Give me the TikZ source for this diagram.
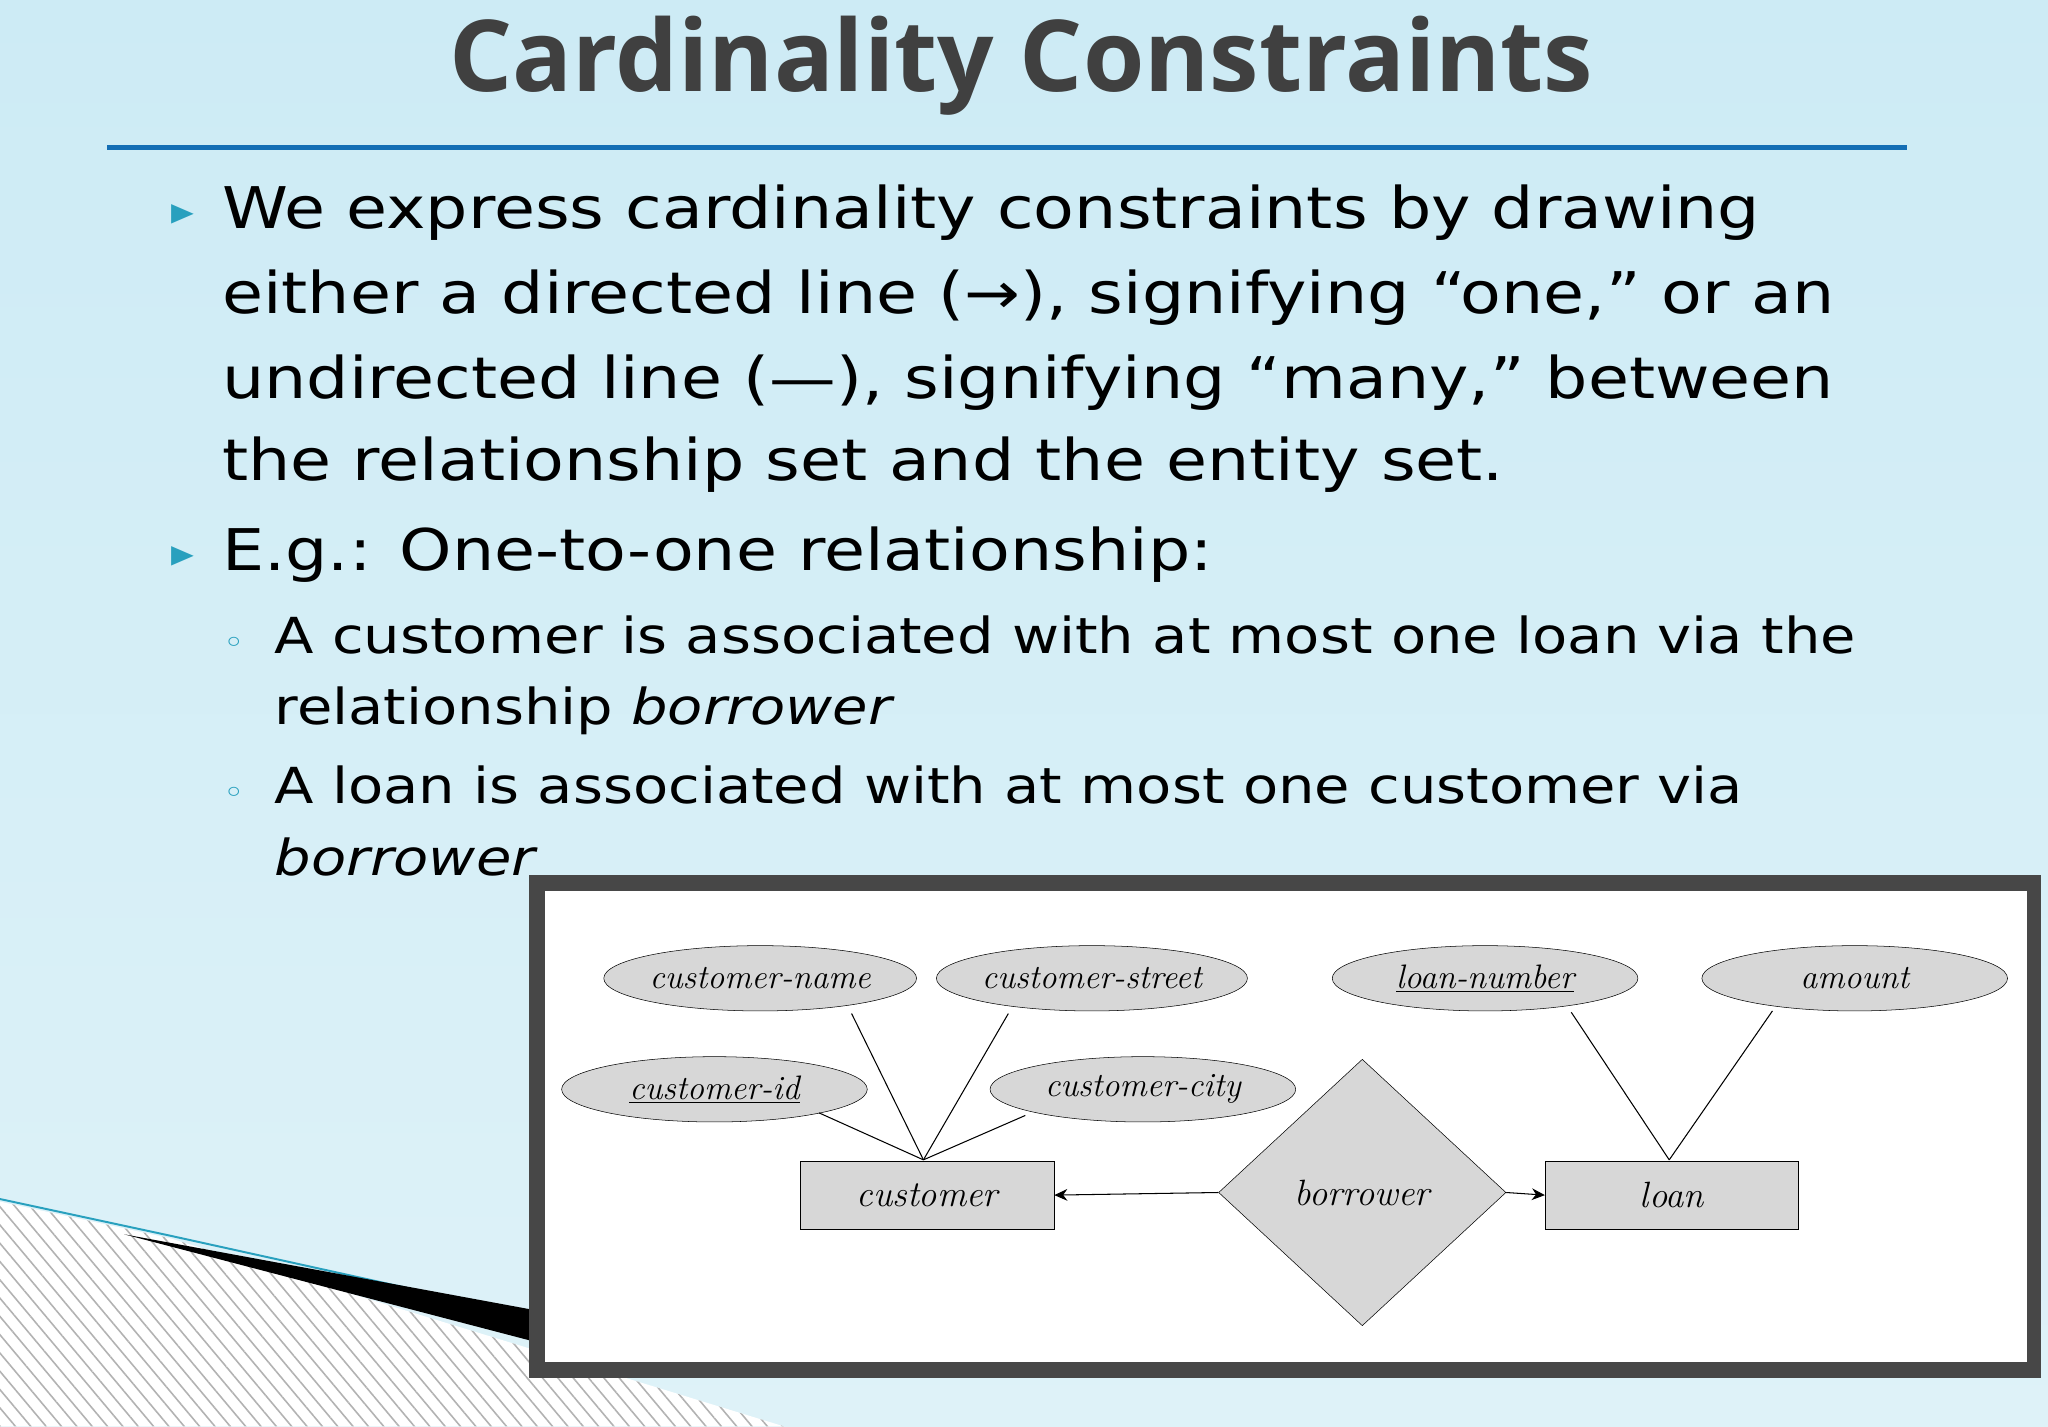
\documentclass[tikz,border=0pt]{standalone}
\usepackage{fontspec}
\setmainfont[FakeStretch=1.16]{DejaVu Sans}
\newfontfamily\titlefont{Open Sans}
\newfontfamily\lmit{Latin Modern Roman}
\usetikzlibrary{shapes.geometric,patterns.meta,arrows.meta}
\definecolor{bgtop}{RGB}{205,235,245}
\definecolor{bgbot}{RGB}{222,242,248}
\definecolor{tealc}{RGB}{40,160,190}
\definecolor{rulec}{RGB}{20,110,180}
\definecolor{shade}{RGB}{215,215,215}
\tikzset{
 body/.style={anchor=base west,inner sep=0,font=\fontsize{44}{44}\selectfont,text=black},
 sub/.style={anchor=base west,inner sep=0,font=\fontsize{38}{38}\selectfont,text=black},
 attr/.style={ellipse,draw,fill=shade,minimum width=234pt,minimum height=50pt,inner sep=0,font=\lmit\itshape\fontsize{26}{26}\selectfont},
 ent/.style={rectangle,draw,fill=shade,minimum width=194pt,minimum height=52pt,font=\lmit\itshape\fontsize{28}{28}\selectfont},
 rel/.style={diamond,draw,fill=shade,minimum width=220pt,minimum height=204pt,inner sep=0,font=\lmit\itshape\fontsize{28}{28}\selectfont},
 ln/.style={draw,line width=0.8pt}
}
\begin{document}
\begin{tikzpicture}[x=1pt,y=-1pt]
\useasboundingbox (0,0) rectangle (1568,1092);
\shade[top color=bgtop,bottom color=bgbot] (0,0) rectangle (1568,1092);
% decoration
\fill[white] (0,920) -- (130,948) -- (600,1092) -- (0,1092) -- cycle;
\fill[pattern={Lines[angle=-50,distance=9pt,line width=1.2pt]},pattern color=gray!60] (0,920) -- (130,948) -- (600,1092) -- (0,1092) -- cycle;
\draw[tealc,line width=1.5pt] (0,918) -- (130,946) -- (420,1010);
\fill[black] (95,945) -- (420,1005) -- (420,1030) -- cycle;
% title
\node[anchor=base,inner sep=0,text=black!75,font=\titlefont\bfseries\fontsize{76}{76}\selectfont] (title) at (782,70) {Cardinality Constraints};
\draw[rulec,line width=4pt] (82,113) -- (1460,113);
% bullets
\foreach \yy in {175,437} \node[anchor=base,inner sep=0,text=tealc,font=\fontsize{30}{30}\selectfont] at (140,\yy-3) {▸};
\foreach \yy in {500,615} \node[anchor=base,inner sep=0,text=tealc,font=\fontsize{24}{24}\selectfont] at (179,\yy) {◦};
\node[body] (l1) at (170,175) {We express cardinality constraints by drawing};
\node[body] (l2) at (170,240) {either a directed line (→), signifying “one,” or an};
\node[body] (l3) at (170,305) {undirected line (—), signifying “many,” between};
\node[body] (l4) at (170,368) {the relationship set and the entity set.};
\node[body] (l5) at (170,437) {E.g.: One-to-one relationship:};
\node[sub] (s1) at (210,500) {A customer is associated with at most one loan via the};
\node[sub] (s2) at (210,555) {relationship \textit{borrower}};
\node[sub] (s3) at (210,615) {A loan is associated with at most one customer via};
\node[sub] (s4) at (210,670) {\textit{borrower}};
% diagram frame
\fill[black!72] (405,670) rectangle (1563,1055);
\fill[white] (417,682) rectangle (1552,1043);
\node[attr] (cn) at (582,749) {customer-name};
\node[attr] (cs) at (836,749) {customer-street};
\node[attr] (ln) at (1137,749) {\underline{loan-number}};
\node[attr] (am) at (1420,749) {amount};
\node[attr] (ci) at (547,834) {\underline{customer-id}};
\node[attr] (cc) at (875,834) {customer-city};
\node[ent] (cu) at (710,915) {customer};
\node[ent] (lo) at (1280,915) {loan};
\node[rel] (bo) at (1043,913) {borrower};
\coordinate (cut) at (707,888);
\coordinate (lot) at (1278,888);
\draw[ln] (652,776) -- (cut);
\draw[ln] (772,776) -- (cut);
\draw[ln] (ci) ++(80,18) -- (cut);
\draw[ln] (cc) ++(-90,20) -- (cut);
\draw[ln] (1203,775) -- (lot);
\draw[ln] (1357,774) -- (lot);
\draw[ln,-{Stealth[length=10pt,width=9pt]}] (bo.west) -- (cu.east);
\draw[ln,-{Stealth[length=10pt,width=9pt]}] (bo.east) -- (lo.west);
\end{tikzpicture}
\end{document}
